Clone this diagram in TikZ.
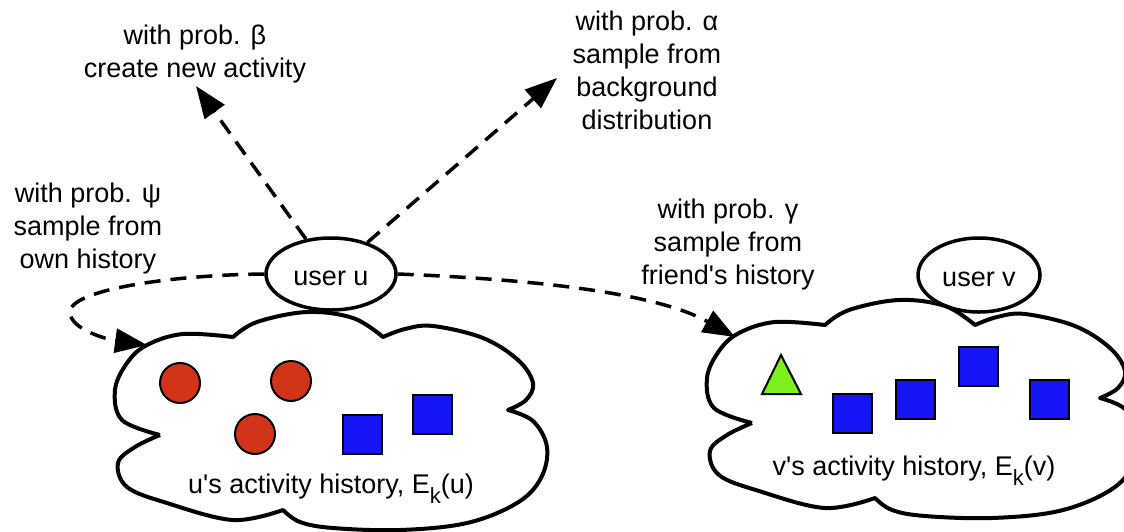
\documentclass[tikz,border=0pt]{standalone}
\usepackage{fontspec}
\newfontfamily\arialish{Liberation Sans}
\usetikzlibrary{arrows.meta,shapes.geometric}
\definecolor{actred}{RGB}{210,52,26}
\definecolor{actblue}{RGB}{20,20,245}
\definecolor{actgreen}{RGB}{124,240,30}
\tikzset{
  lbl/.style={font=\arialish\fontsize{27}{33}\selectfont, align=center, inner sep=0pt},
  user/.style={draw, ellipse, line width=3.5pt, inner sep=0pt, text height=22pt, text depth=0pt,
    font=\arialish\fontsize{27}{33}\selectfont},
  cloudline/.style={line width=4pt, line join=round},
  flow/.style={line width=3.5pt, dash pattern=on 16pt off 10pt, -{Triangle[length=32pt,width=24pt]}},
  redball/.style={circle, draw, line width=2pt, fill=actred, minimum size=40pt, inner sep=0pt},
  bluebox/.style={rectangle, draw, line width=2pt, fill=actblue, minimum size=39pt, inner sep=0pt},
  greentri/.style={draw, line width=2pt, fill=actgreen, line join=miter},
  cloudpic/.pic={
    \draw[cloudline]
      plot[smooth,tension=0.6] coordinates {(160,435) (122,420) (115,390) (127,363) (147,345) (183,334) (233,337)}
      -- plot[smooth,tension=0.6] coordinates {(233,337) (257,322) (307,312) (353,318) (383,337)}
      -- plot[smooth,tension=0.6] coordinates {(383,337) (405,329) (433,326) (483,338) (518,360) (533,383) (526,400) (508,410)}
      -- plot[smooth,tension=0.6] coordinates {(508,410) (533,421) (547,447) (541,478) (517,503) (467,523) (400,530) (333,528) (300,522) (283,510)}
      -- plot[smooth,tension=0.6] coordinates {(283,510) (233,520) (167,503) (127,487) (118,463) (135,447) (160,435)};
  }
}
\begin{document}
\begin{tikzpicture}[x=1pt,y=-1pt]
\useasboundingbox (0,0) rectangle (1124,531);
% clouds
\pic at (0,0) {cloudpic};
\pic at (592,-12) {cloudpic};
% users
\node[user, minimum width=130pt, minimum height=72pt] (uu) at (331,274) {user u};
\node[user, minimum width=122pt, minimum height=74pt] (uv) at (979,275) {user v};
% labels (base = baseline of the last line)
\node[lbl, anchor=base] (tbeta) at (195,77) {with prob. β\\create new activity};
\node[lbl, anchor=base] (talpha) at (647,129) {with prob. α\\sample from\\background\\distribution};
\node[lbl, anchor=base] (tpsi) at (88,268) {with prob. ψ\\sample from\\own history};
\node[lbl, anchor=base] (tgamma) at (728,284) {with prob. γ\\sample from\\friend's history};
\node[lbl, anchor=base] (ulabel) at (331,493) {u's activity history, E\raisebox{-10pt}{\fontsize{22}{22}\selectfont k}(u)};
\node[lbl, anchor=base] (vlabel) at (914,475) {v's activity history, E\raisebox{-10pt}{\fontsize{22}{22}\selectfont k}(v)};
% activities in u's history
\node[redball] (r1) at (180,383) {};
\node[redball] (r2) at (291,381) {};
\node[redball] (r3) at (255,434) {};
\node[bluebox] (ub1) at (362,434) {};
\node[bluebox] (ub2) at (432,414) {};
% activities in v's history
\draw[greentri] (781,355) -- (801,394) -- (762,394) -- cycle;
\node[bluebox] (vb1) at (852,413) {};
\node[bluebox] (vb2) at (915,399) {};
\node[bluebox] (vb3) at (978,366) {};
\node[bluebox] (vb4) at (1049,399) {};
% arrow ends
\coordinate (btip) at (196,86);
\coordinate (atip) at (557,78);
\coordinate (ptip) at (147,345);
\coordinate (gtip) at (735,337);
% connectors
\draw[flow] (uu) -- (btip);
\draw[flow] (uu) -- (atip);
\draw[flow] (uu.west) .. controls (170,275) and (70,290) .. (70,312)
   .. controls (70,330) and (110,340) .. (ptip);
\draw[flow] (uu.east) .. controls (550,280) and (660,295) .. (gtip);
\end{tikzpicture}
\end{document}
